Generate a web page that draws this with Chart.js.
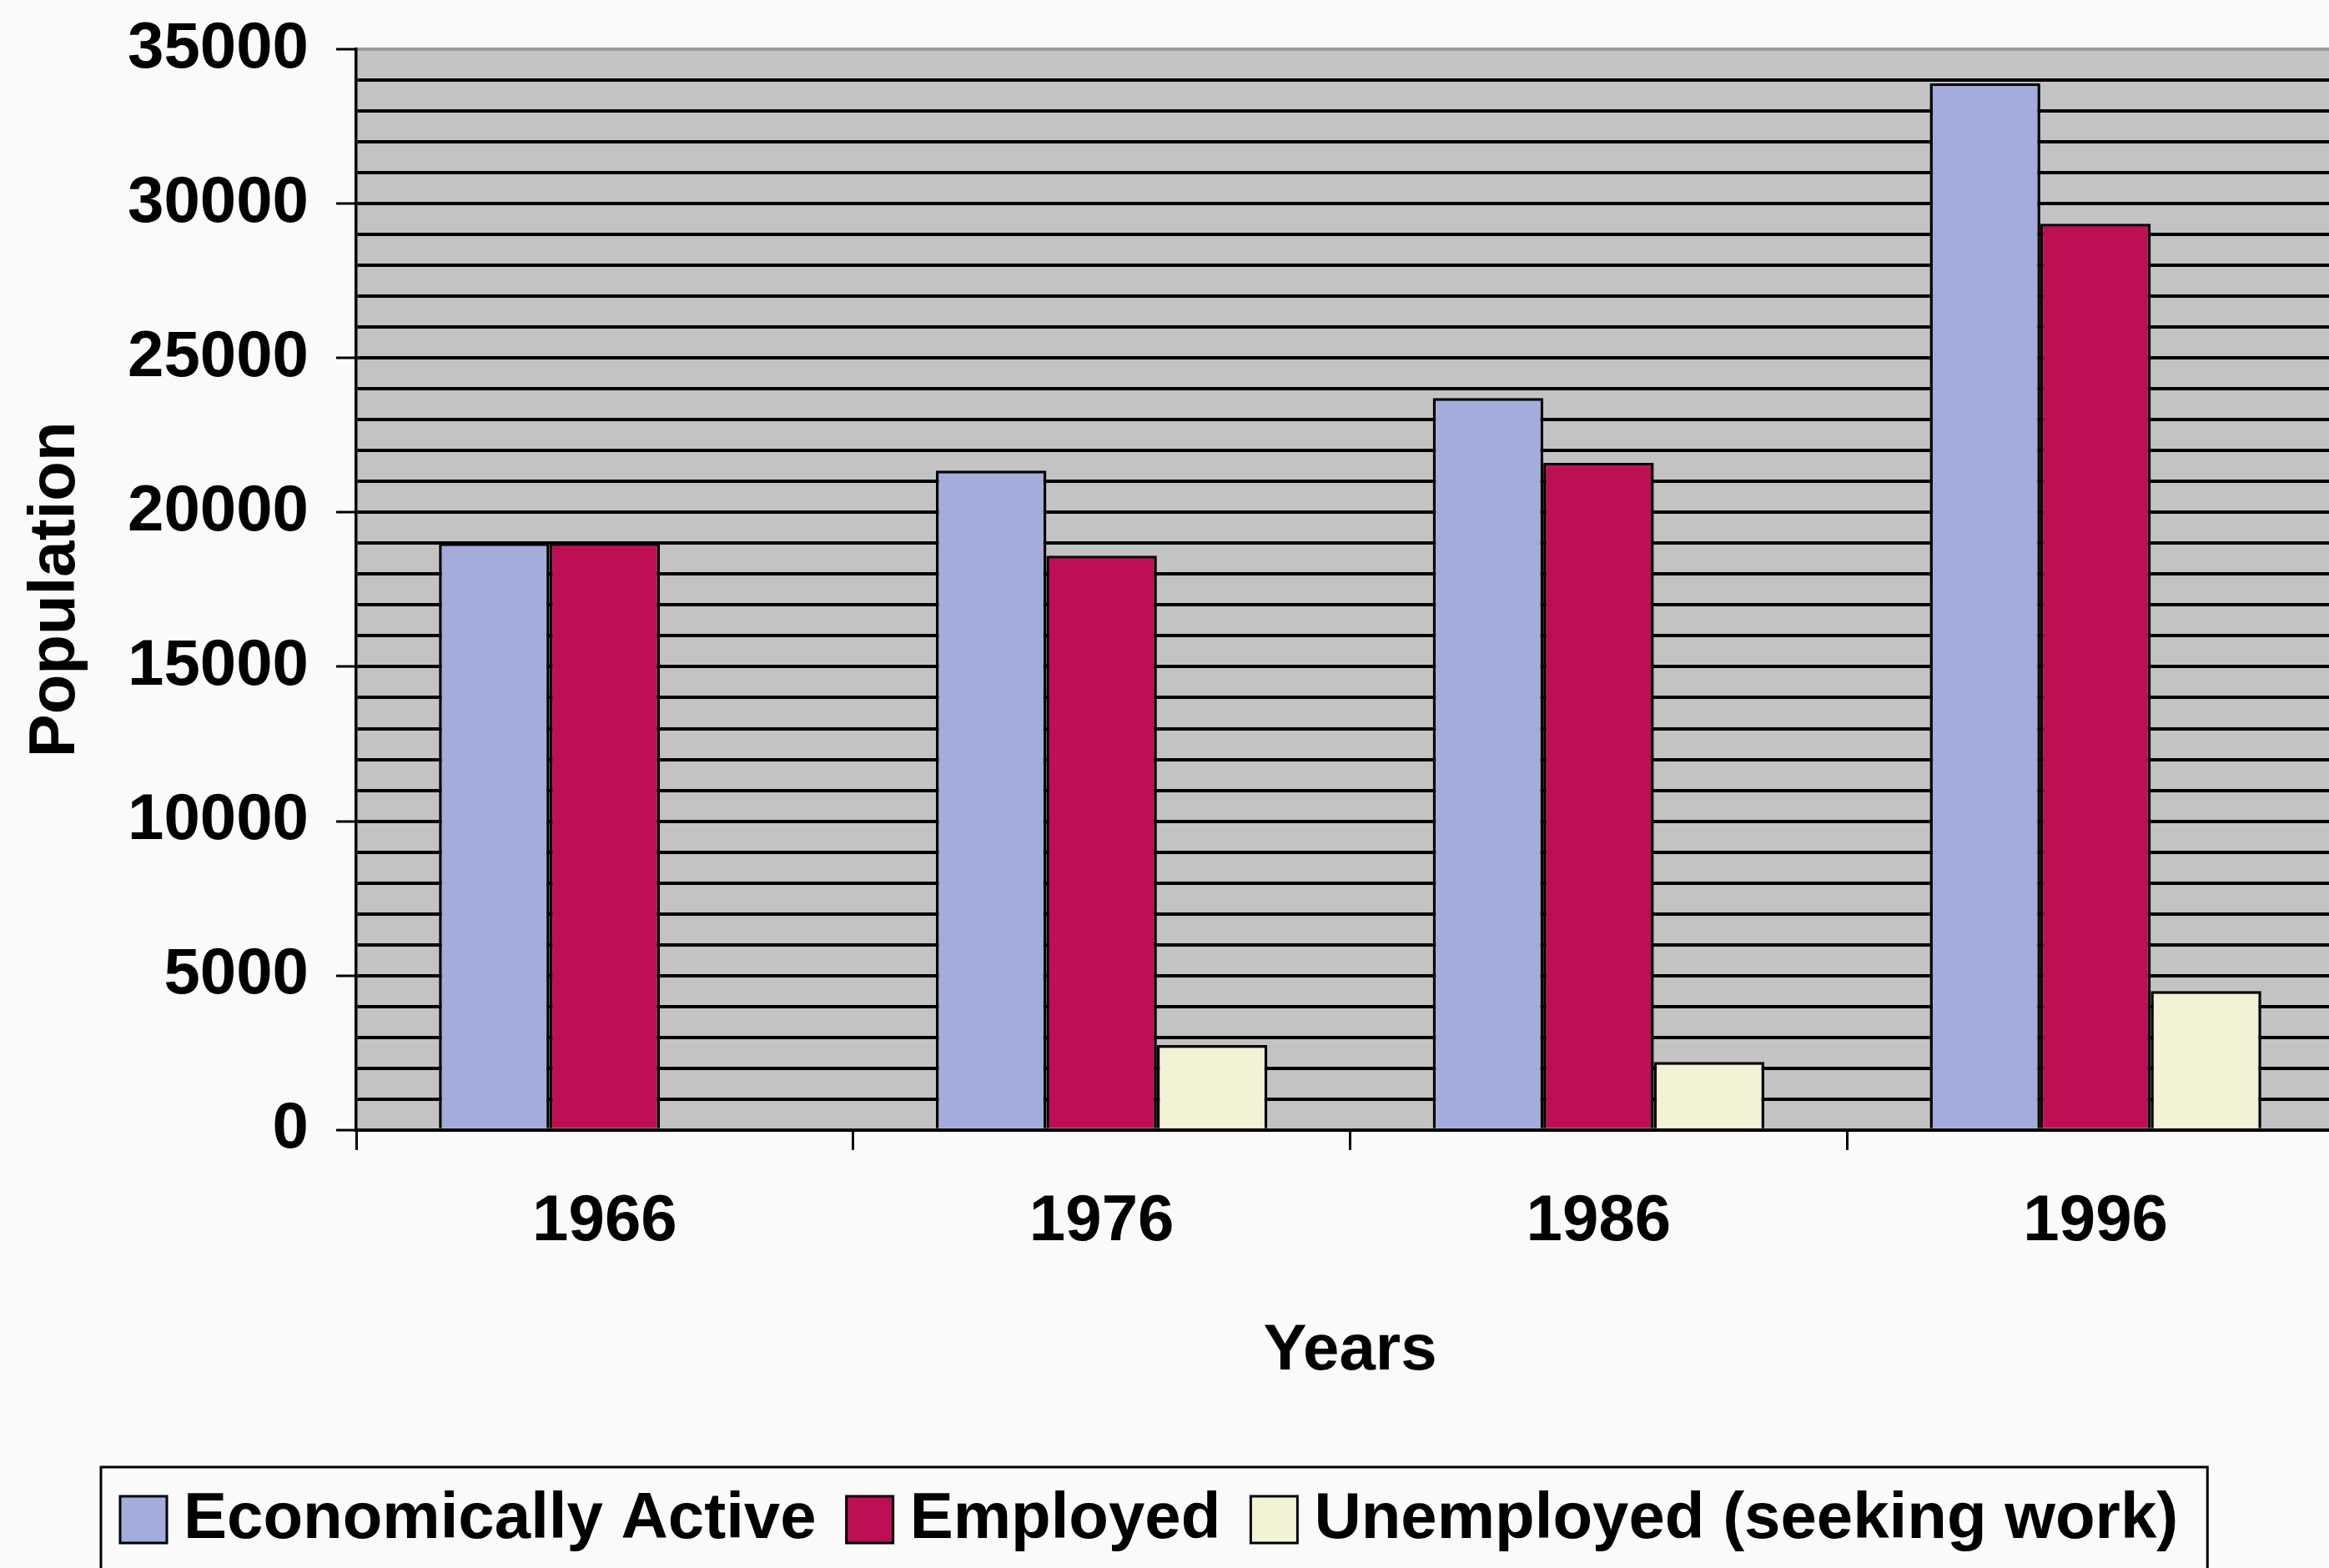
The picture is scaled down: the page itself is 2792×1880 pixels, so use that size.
<!doctype html>
<html lang="en">
<head>
    <meta charset="utf-8">
    <title>Population by Years</title>
    <style>
        html, body { margin: 0; padding: 0; overflow: hidden; background: #fafafa; }
        #wrap { width: 2810px; height: 1880px; }
    </style>
</head>
<body>
    <div id="wrap"><canvas id="chart"></canvas></div>

    <script src="https://cdn.jsdelivr.net/npm/chart.js@4.4.1/dist/chart.umd.min.js"></script>
    <script>
        const years = ['1966', '1976', '1986', '1996'];
        const active = [19000, 21350, 23700, 33900];
        const employed = [19000, 18600, 21600, 29350];
        const unemployed = [null, 2750, 2200, 4500];
        const yLabels = [0, 5000, 10000, 15000, 20000, 25000, 30000, 35000];

        Chart.defaults.font.family = '"Liberation Sans", Arial, sans-serif';
        Chart.defaults.font.size = 78;
        Chart.defaults.font.weight = 'bold';
        Chart.defaults.color = '#000';

        // grey plot area behind the grid
        const plotBg = {
            id: 'plotBg',
            beforeDraw(chart) {
                const { ctx, chartArea: a } = chart;
                ctx.save();
                ctx.fillStyle = '#c3c3c3';
                ctx.fillRect(a.left, a.top, a.right - a.left, a.bottom - a.top);
                ctx.restore();
            }
        };

        // legend in a framed box, like the spreadsheet one
        const boxLegend = {
            id: 'boxLegend',
            afterDraw(chart) {
                const ctx = chart.ctx;
                const sq = 56, textGap = 20, itemGap = 36, cy = 1822;
                let x = 144;
                const start = x;
                ctx.save();
                ctx.font = 'bold 78px "Liberation Sans", Arial, sans-serif';
                ctx.textBaseline = 'middle';
                ctx.lineWidth = 3;
                ctx.strokeStyle = '#000';
                chart.data.datasets.forEach(ds => {
                    ctx.fillStyle = ds.backgroundColor;
                    ctx.fillRect(x, cy - sq / 2, sq, sq);
                    ctx.strokeRect(x, cy - sq / 2, sq, sq);
                    x += sq + textGap;
                    ctx.fillStyle = '#000';
                    ctx.fillText(ds.label, x, cy);
                    x += ctx.measureText(ds.label).width + itemGap;
                });
                const end = x - itemGap;
                ctx.strokeRect(start - 23, 1759, end + 35 - (start - 23), 200);
                ctx.restore();
            }
        };

        const barStyle = { borderColor: '#000', borderWidth: 3.5, barPercentage: 1, categoryPercentage: 0.667 };

        new Chart(document.getElementById('chart'), {
            type: 'bar',
            data: {
                labels: years,
                datasets: [
                    { label: 'Economically Active', data: active, backgroundColor: '#a3acdc', ...barStyle },
                    { label: 'Employed', data: employed, backgroundColor: '#be0f55', ...barStyle },
                    { label: 'Unemployed (seeking work)', data: unemployed, backgroundColor: '#f2f2d4', ...barStyle }
                ]
            },
            options: {
                responsive: true,
                maintainAspectRatio: false,
                animation: false,
                layout: { padding: { top: 59, right: 0, bottom: 108, left: 0 } },
                plugins: {
                    legend: { display: false },
                    tooltip: { enabled: false }
                },
                scales: {
                    x: {
                        grid: { drawOnChartArea: false, tickLength: 24, tickColor: '#000', tickWidth: 3 },
                        border: { color: '#000', width: 3.5 },
                        ticks: { padding: 40 },
                        title: { display: true, text: 'Years', padding: { top: 21, bottom: 105 } }
                    },
                    y: {
                        min: 0,
                        max: 35000,
                        afterFit(scale) {
                            scale.width = 427;
                            scale.paddingTop = 0;
                            scale.paddingBottom = 0;
                        },
                        grid: {
                            color: c => c.tick && c.tick.value === 35000 ? '#9a9a9a' : '#000',
                            lineWidth: 4,
                            tickLength: 24,
                            tickWidth: 3,
                            tickColor: c => c.tick && c.tick.value % 5000 === 0 ? '#000' : 'rgba(0,0,0,0)'
                        },
                        border: { color: '#000', width: 3.5 },
                        ticks: {
                            stepSize: 1000,
                            autoSkip: false,
                            padding: 33,
                            callback: v => yLabels.includes(v) ? String(v) : ''
                        },
                        title: { display: true, text: 'Population', padding: { top: 21, bottom: 0 } }
                    }
                }
            },
            plugins: [plotBg, boxLegend]
        });
    </script>
</body>
</html>
